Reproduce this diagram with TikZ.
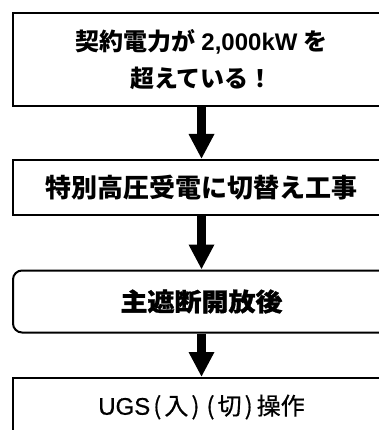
\documentclass[tikz,border=0pt]{standalone}
\usepackage{fontspec}
\usetikzlibrary{arrows.meta}
\newfontfamily\jp{Noto Sans CJK JP}
\newfontfamily\jpwide{Noto Sans CJK JP}[FakeStretch=1.08, BoldFeatures={FakeBold=1.2}]
\newfontfamily\jpmed{Noto Sans CJK JP}[FakeBold=0.6]
\newfontfamily\lat{Liberation Sans}
\newfontfamily\latmed{Liberation Sans}[FakeBold=0.6]
\tikzset{
  flowbox/.style={draw=black, line width=2pt, fill=white, minimum width=377pt, inner sep=0pt, align=center, text=black},
  flowarrow/.style={line width=9pt, -{Triangle[width=24pt,length=25pt]}},
}
\begin{document}
\begin{tikzpicture}[x=1pt,y=-1pt]
\useasboundingbox (0,0) rectangle (379,430);
\clip (0,0) rectangle (379,430);
\fill[white] (0,0) rectangle (379,430);
\node[flowbox, minimum height=93pt, font=\jp\bfseries\fontsize{24pt}{36.5pt}\selectfont] (b1) at (201.5,59.5)
  {契約電力が {\lat\bfseries 2,000kW} を\\超えている！};
\node[flowbox, minimum height=55pt, font=\jp\bfseries\fontsize{26pt}{30pt}\selectfont] (b2) at (201.5,187.5)
  {特別高圧受電に切替え工事};
\node[flowbox, minimum height=62pt, rounded corners=9pt, font=\jpwide\bfseries\fontsize{25pt}{30pt}\selectfont] (b3) at (201.5,301.5)
  {主遮断開放後};
\node[flowbox, minimum height=58pt, font=\jpmed\fontsize{24pt}{28pt}\selectfont] (b4) at (201.5,407)
  {{\latmed UGS}\kern3pt(\kern3pt入\kern3pt)\kern7pt(\kern3pt切\kern3pt)\kern4pt操作};
\draw[flowarrow] (b1.south) -- (b2.north);
\draw[flowarrow] (b2.south) -- (b3.north);
\draw[flowarrow] (b3.south) -- (b4.north);
\end{tikzpicture}
\end{document}
